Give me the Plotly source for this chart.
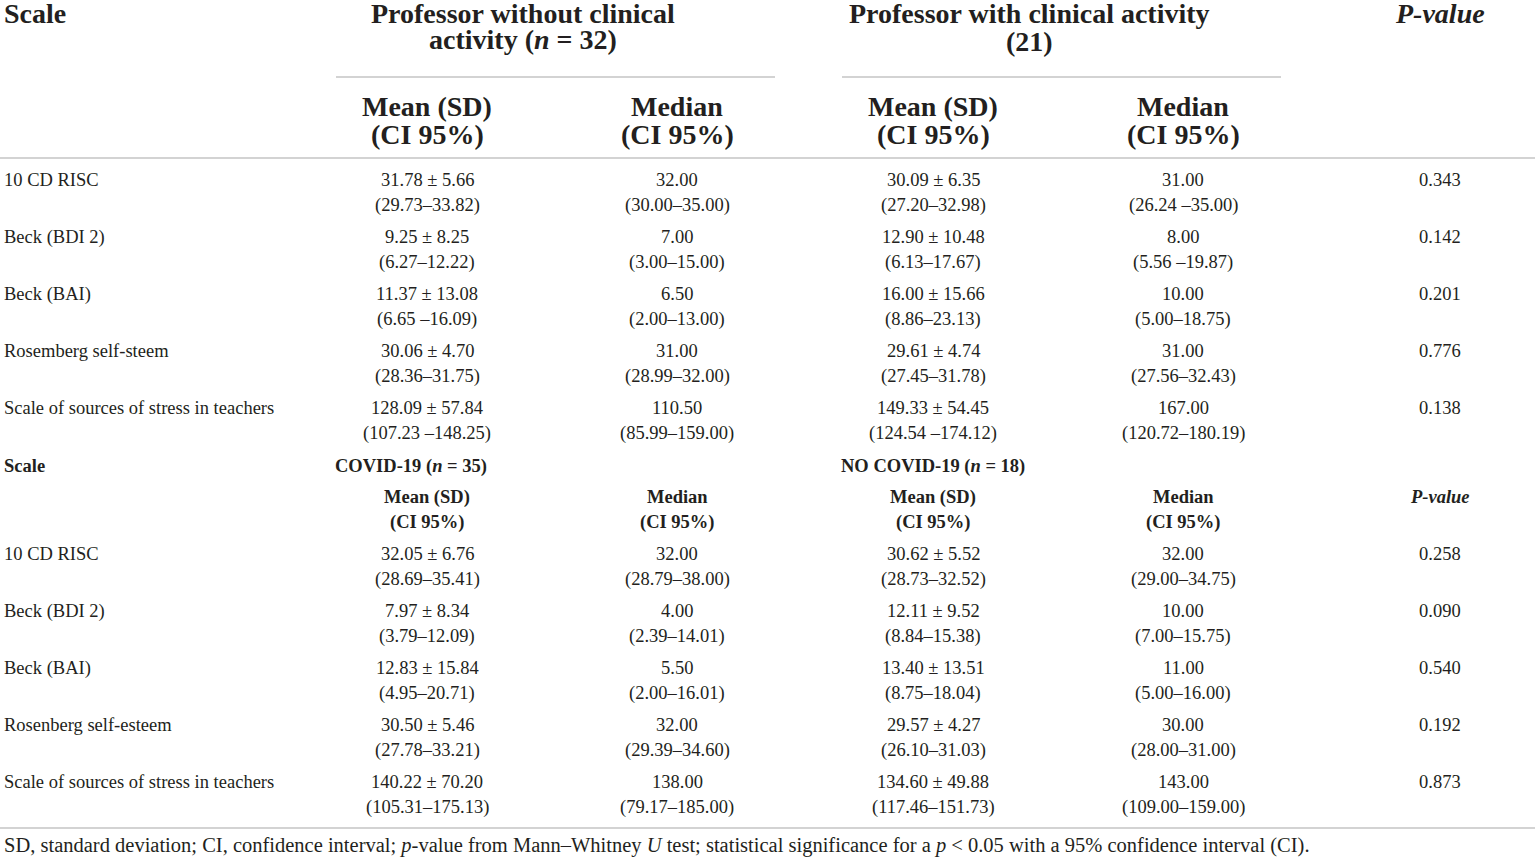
"""Descriptive scale statistics by professor group, drawn as a table figure."""

import plotly.graph_objects as go

# --- data -------------------------------------------------------------------
scales_clinical = [
    "10 CD RISC",
    "Beck (BDI 2)",
    "Beck (BAI)",
    "Rosemberg self-steem",
    "Scale of sources of stress in teachers",
]
no_clin_mean = ["31.78 ± 5.66", "9.25 ± 8.25", "11.37 ± 13.08", "30.06 ± 4.70", "128.09 ± 57.84"]
no_clin_mean_ci = ["(29.73–33.82)", "(6.27–12.22)", "(6.65 –16.09)", "(28.36–31.75)", "(107.23 –148.25)"]
no_clin_median = ["32.00", "7.00", "6.50", "31.00", "110.50"]
no_clin_median_ci = ["(30.00–35.00)", "(3.00–15.00)", "(2.00–13.00)", "(28.99–32.00)", "(85.99–159.00)"]
clin_mean = ["30.09 ± 6.35", "12.90 ± 10.48", "16.00 ± 15.66", "29.61 ± 4.74", "149.33 ± 54.45"]
clin_mean_ci = ["(27.20–32.98)", "(6.13–17.67)", "(8.86–23.13)", "(27.45–31.78)", "(124.54 –174.12)"]
clin_median = ["31.00", "8.00", "10.00", "31.00", "167.00"]
clin_median_ci = ["(26.24 –35.00)", "(5.56 –19.87)", "(5.00–18.75)", "(27.56–32.43)", "(120.72–180.19)"]
p_clinical = ["0.343", "0.142", "0.201", "0.776", "0.138"]

scales_covid = [
    "10 CD RISC",
    "Beck (BDI 2)",
    "Beck (BAI)",
    "Rosenberg self-esteem",
    "Scale of sources of stress in teachers",
]
covid_mean = ["32.05 ± 6.76", "7.97 ± 8.34", "12.83 ± 15.84", "30.50 ± 5.46", "140.22 ± 70.20"]
covid_mean_ci = ["(28.69–35.41)", "(3.79–12.09)", "(4.95–20.71)", "(27.78–33.21)", "(105.31–175.13)"]
covid_median = ["32.00", "4.00", "5.50", "32.00", "138.00"]
covid_median_ci = ["(28.79–38.00)", "(2.39–14.01)", "(2.00–16.01)", "(29.39–34.60)", "(79.17–185.00)"]
nocovid_mean = ["30.62 ± 5.52", "12.11 ± 9.52", "13.40 ± 13.51", "29.57 ± 4.27", "134.60 ± 49.88"]
nocovid_mean_ci = ["(28.73–32.52)", "(8.84–15.38)", "(8.75–18.04)", "(26.10–31.03)", "(117.46–151.73)"]
nocovid_median = ["32.00", "10.00", "11.00", "30.00", "143.00"]
nocovid_median_ci = ["(29.00–34.75)", "(7.00–15.75)", "(5.00–16.00)", "(28.00–31.00)", "(109.00–159.00)"]
p_covid = ["0.258", "0.090", "0.540", "0.192", "0.873"]

footnote = (
    "SD, standard deviation; CI, confidence interval; <i>p</i>-value from Mann–Whitney "
    "<i>U</i> test; statistical significance for a <i>p</i> &lt; 0.05 with a 95% "
    "confidence interval (CI)."
)

# --- layout constants -------------------------------------------------------
W, H = 1535, 857
FONT = "Liberation Serif"
INK = "#231f20"
RULE = "#c4c4c4"
COLS = [427, 677, 933, 1183]  # mean / median / mean / median centres
PCOL = 1440
ROW_PITCH = 57
LINE2 = 25
HEAD = 28
BODY = 18.5

fig = go.Figure()


def txt(x, y, text, size=BODY, anchor="center"):
    fig.add_annotation(
        x=x, y=y, text=text, xref="x", yref="y", showarrow=False,
        xanchor=anchor, yanchor="middle",
        font=dict(family=FONT, size=size, color=INK),
    )


def rule(x0, x1, y):
    fig.add_shape(type="line", xref="x", yref="y", x0=x0, x1=x1, y0=y, y1=y,
                  line=dict(color=RULE, width=1.3))


def body(top, scales, columns, pvals):
    for i, name in enumerate(scales):
        y = top + i * ROW_PITCH
        txt(2, y, name, anchor="left")
        for cx, (vals, cis) in zip(COLS, columns):
            txt(cx, y, vals[i])
            txt(cx, y + LINE2, cis[i])
        txt(PCOL, y, pvals[i])


# header block, section 1
txt(2, 13, "<b>Scale</b>", size=HEAD, anchor="left")
txt(523, 13, "<b>Professor without clinical</b>", size=HEAD)
txt(523, 39, "<b>activity (<i>n</i> = 32)</b>", size=HEAD)
txt(1029, 13, "<b>Professor with clinical activity</b>", size=HEAD)
txt(1029, 41, "<b>(21)</b>", size=HEAD)
txt(PCOL, 13, "<b><i>P-value</i></b>", size=HEAD)
rule(336, 775, 77)
rule(842, 1281, 77)
for cx, head in zip(COLS, ["Mean (SD)", "Median", "Mean (SD)", "Median"]):
    txt(cx, 106, f"<b>{head}</b>", size=HEAD)
    txt(cx, 134, "<b>(CI 95%)</b>", size=HEAD)
rule(0, W, 158)

body(
    180,
    scales_clinical,
    [(no_clin_mean, no_clin_mean_ci), (no_clin_median, no_clin_median_ci),
     (clin_mean, clin_mean_ci), (clin_median, clin_median_ci)],
    p_clinical,
)

# header block, section 2
txt(2, 466, "<b>Scale</b>", anchor="left")
txt(333, 466, "<b>COVID-19 (<i>n</i> = 35)</b>", anchor="left")
txt(839, 466, "<b>NO COVID-19 (<i>n</i> = 18)</b>", anchor="left")
for cx, head in zip(COLS, ["Mean (SD)", "Median", "Mean (SD)", "Median"]):
    txt(cx, 497, f"<b>{head}</b>")
    txt(cx, 522, "<b>(CI 95%)</b>")
txt(PCOL, 497, "<b><i>P-value</i></b>")

body(
    554,
    scales_covid,
    [(covid_mean, covid_mean_ci), (covid_median, covid_median_ci),
     (nocovid_mean, nocovid_mean_ci), (nocovid_median, nocovid_median_ci)],
    p_covid,
)

rule(0, W, 828)
txt(2, 845, footnote, size=20.5, anchor="left")

fig.update_layout(
    width=W,
    height=H,
    margin=dict(l=0, r=0, t=0, b=0),
    paper_bgcolor="white",
    plot_bgcolor="white",
    showlegend=False,
    xaxis=dict(range=[0, W], visible=False, fixedrange=True),
    yaxis=dict(range=[H, 0], visible=False, fixedrange=True),
)

# drop the page's default body margin so the figure sits at the window corner
fig.write_html(
    "out.html",
    config={"displayModeBar": False},
    post_script="document.body.style.margin = '0';",
)
